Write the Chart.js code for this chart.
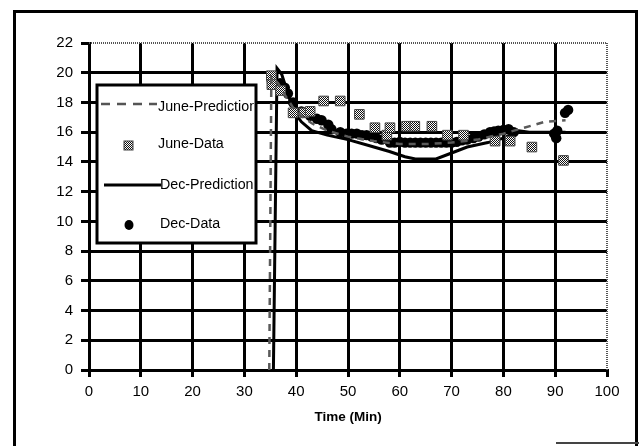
<!DOCTYPE html>
<html>
<head>
<meta charset="utf-8">
<script src="https://cdn.jsdelivr.net/npm/chart.js@4.4.1/dist/chart.umd.min.js"></script>
<style>
  html, body { margin: 0; padding: 0; background: #fff; }
  #wrap { position: relative; width: 639px; height: 446px; overflow: hidden; }
  #frame { position: absolute; left: 13px; top: 10px; width: 619px; height: 440px; border: 3px solid #000; border-bottom: none; }
  #frameBottom { position: absolute; left: 556px; top: 442px; width: 83px; height: 2px; background: #444; }
  #chart { position: absolute; left: 0; top: 0; }
</style>
</head>
<body>
<div id="wrap">
  <div id="frame"></div>
  <div id="frameBottom"></div>
  <canvas id="chart" width="639" height="446"></canvas>
</div>
<script>
// values
const junePredX = [34.8, 35.2, 36.5, 38, 39.5, 41, 43, 46, 50, 55, 60, 65, 70, 75, 80, 84, 88, 92];
const junePredY = [0, 19.7, 19.3, 18.4, 17.6, 17.1, 16.6, 16.1, 15.7, 15.4, 15.2, 15.2, 15.3, 15.5, 15.9, 16.3, 16.7, 16.8];

const juneDataX = [35.2, 35.3, 37.0, 39.4, 41.5, 42.7, 45.3, 48.5, 52.2, 55.2, 57.5, 58.1, 61.3, 62.9, 66.2, 69.2, 72.3, 78.4, 81.3, 85.5, 91.6];
const juneDataY = [19.8, 19.2, 18.8, 17.3, 17.3, 17.4, 18.1, 18.1, 17.2, 16.3, 15.8, 16.3, 16.4, 16.4, 16.4, 15.8, 15.8, 15.4, 15.4, 15.0, 14.1];

const decPredX = [35.6, 36.3, 37.2, 38.2, 39.5, 41, 43, 46, 50, 54, 58, 61, 63, 67, 70, 73, 77, 80, 83, 85, 92];
const decPredY = [0, 20.3, 19.9, 18.8, 17.4, 16.7, 16.1, 15.8, 15.5, 15.1, 14.7, 14.35, 14.2, 14.2, 14.6, 15.0, 15.3, 15.6, 16.1, 16.0, 16.0];

const decDataX = [35.3, 36.9, 37.8, 38.4, 39.4, 41.0, 42.0, 42.7, 44.0, 44.9, 46.2, 46.8, 48.5, 49.7, 50.7, 51.7, 52.7, 53.6, 54.6, 55.5,
                  56.5, 58.1, 59.0, 60.0, 61.0, 62.0, 63.0, 64.0, 65.0, 66.0, 67.0, 68.0, 69.0, 70.0, 71.0, 72.0, 73.0, 74.2, 75.2, 76.3,
                  77.4, 78.2, 79.0, 80.0, 81.0, 82.0, 89.8, 90.2, 90.4, 91.9, 92.5];
const decDataY = [19.4, 19.3, 19.0, 18.6, 18.0, 17.4, 17.3, 17.1, 16.9, 16.8, 16.5, 16.2, 16.0, 15.9, 15.9, 15.9, 15.8, 15.8, 15.7, 15.6,
                  15.5, 15.3, 15.3, 15.35, 15.3, 15.3, 15.3, 15.3, 15.3, 15.3, 15.3, 15.3, 15.3, 15.3, 15.35, 15.45, 15.5, 15.6, 15.7, 15.85,
                  16.0, 16.05, 16.1, 16.15, 16.2, 16.0, 15.9, 15.6, 16.1, 17.3, 17.5];

const xTicks = [0, 10, 20, 30, 40, 50, 60, 70, 80, 90, 100];
const yTicks = [0, 2, 4, 6, 8, 10, 12, 14, 16, 18, 20, 22];

const seriesNames = ['June-Prediction', 'June-Data', 'Dec-Prediction', 'Dec-Data'];

const FONT = '"Liberation Sans", Arial, Helvetica, sans-serif';

function toPoints(xs, ys) {
    return xs.map((x, i) => ({ x: x, y: ys[i] }));
}

// fine checker, reads as grey like the scanned squares
function makeChecker() {
    const c = document.createElement('canvas');
    c.width = 2; c.height = 2;
    const g = c.getContext('2d');
    g.fillStyle = '#fff'; g.fillRect(0, 0, 2, 2);
    g.fillStyle = '#111'; g.fillRect(0, 0, 1, 1); g.fillRect(1, 1, 1, 1);
    return g.createPattern(c, 'repeat');
}
const checker = makeChecker();

// dotted grey top and right frame of the plot
const plotFrame = {
    id: 'plotFrame',
    beforeDatasetsDraw(chart) {
        const { ctx, chartArea: a } = chart;
        ctx.save();
        ctx.strokeStyle = '#555';
        ctx.lineWidth = 2;
        ctx.setLineDash([1, 1]);
        ctx.beginPath();
        ctx.moveTo(a.left, a.top);
        ctx.lineTo(a.right, a.top);
        ctx.lineTo(a.right, a.bottom);
        ctx.stroke();
        ctx.restore();
    }
};

// draw text squeezed a bit sideways, the scan used a narrow face
function narrowText(ctx, text, x, y) {
    ctx.save();
    ctx.translate(x, y);
    ctx.scale(0.92, 1);
    ctx.fillText(text, 0, 0);
    ctx.restore();
}

// boxed legend sitting inside the plot, text clipped at the box edge
const boxLegend = {
    id: 'boxLegend',
    afterDraw(chart) {
        const ctx = chart.ctx;
        const ds = chart.data.datasets;
        const L = 97, T = 85, R = 256, B = 243;
        ctx.save();
        ctx.fillStyle = '#fff';
        ctx.fillRect(L, T, R - L, B - T);
        ctx.lineWidth = 3;
        ctx.strokeStyle = '#000';
        ctx.strokeRect(L, T, R - L, B - T);
        ctx.beginPath();
        ctx.rect(L + 2, T + 2, R - L - 4, B - T - 4);
        ctx.clip();

        // June-Prediction
        ctx.strokeStyle = '#555';
        ctx.lineWidth = 2.5;
        ctx.setLineDash([9, 7]);
        ctx.beginPath(); ctx.moveTo(101, 104); ctx.lineTo(157, 104); ctx.stroke();
        ctx.setLineDash([]);
        // June-Data
        ctx.fillStyle = checker;
        ctx.fillRect(124, 141, 9, 9);
        ctx.strokeStyle = '#444'; ctx.lineWidth = 1;
        ctx.strokeRect(124, 141, 9, 9);
        // Dec-Prediction
        ctx.strokeStyle = '#000'; ctx.lineWidth = 3;
        ctx.beginPath(); ctx.moveTo(104, 185); ctx.lineTo(161, 185); ctx.stroke();
        // Dec-Data
        ctx.fillStyle = '#000';
        ctx.beginPath(); ctx.ellipse(129, 225, 4.5, 5, 0, 0, Math.PI * 2); ctx.fill();

        ctx.fillStyle = '#000';
        ctx.font = '15.5px ' + FONT;
        ctx.textBaseline = 'middle';
        ctx.textAlign = 'left';
        narrowText(ctx, ds[0].label, 158, 107);
        narrowText(ctx, ds[1].label, 158, 144);
        narrowText(ctx, ds[2].label, 160, 185);
        narrowText(ctx, ds[3].label, 160, 224);
        ctx.restore();
    }
};

new Chart(document.getElementById('chart'), {
    type: 'scatter',
    data: {
        datasets: [{
            label: seriesNames[0],
            data: toPoints(junePredX, junePredY),
            showLine: true,
            borderColor: '#5a5a5a',
            borderWidth: 2.5,
            borderDash: [7, 6],
            pointRadius: 0,
            tension: 0
        }, {
            label: seriesNames[1],
            data: toPoints(juneDataX, juneDataY),
            pointStyle: 'rect',
            pointRadius: 6.8,
            backgroundColor: checker,
            borderColor: '#444',
            borderWidth: 1
        }, {
            label: seriesNames[2],
            data: toPoints(decPredX, decPredY),
            showLine: true,
            borderColor: '#000',
            borderWidth: 3,
            pointRadius: 0,
            tension: 0
        }, {
            label: seriesNames[3],
            data: toPoints(decDataX, decDataY),
            pointStyle: 'circle',
            pointRadius: 5.2,
            backgroundColor: '#000',
            borderColor: '#000',
            borderWidth: 0
        }]
    },
    options: {
        responsive: false,
        animation: false,
        devicePixelRatio: 1,
        layout: { padding: { left: 0, right: 32, top: 43, bottom: 21 } },
        plugins: {
            legend: { display: false },
            tooltip: { enabled: false }
        },
        scales: {
            x: {
                type: 'linear',
                min: 0, max: 100,
                afterFit: s => { s.height = 55; },
                afterBuildTicks: s => { s.ticks = xTicks.map(v => ({ value: v })); },
                ticks: { color: '#000', font: { family: FONT, size: 15 }, padding: 6, maxRotation: 0 },
                grid: {
                    color: c => (c.tick && c.tick.value === 100) ? 'rgba(0,0,0,0)' : '#000',
                    lineWidth: 3,
                    tickColor: '#000',
                    tickWidth: 3,
                    tickLength: 7
                },
                border: { display: true, color: '#000', width: 3 },
                title: {
                    display: true,
                    text: 'Time (Min)',
                    color: '#000',
                    font: { family: FONT, size: 13.5, weight: 'bold' },
                    padding: 0
                }
            },
            y: {
                type: 'linear',
                min: 0, max: 22,
                afterFit: s => { s.width = 89; },
                afterBuildTicks: s => { s.ticks = yTicks.map(v => ({ value: v })); },
                ticks: { color: '#000', font: { family: FONT, size: 15 }, padding: 8 },
                grid: {
                    color: c => (c.tick && c.tick.value === 22) ? 'rgba(0,0,0,0)' : '#000',
                    lineWidth: 3,
                    tickColor: '#000',
                    tickWidth: 3,
                    tickLength: 8
                },
                border: { display: true, color: '#000', width: 3 }
            }
        }
    },
    plugins: [plotFrame, boxLegend]
});
</script>
</body>
</html>
